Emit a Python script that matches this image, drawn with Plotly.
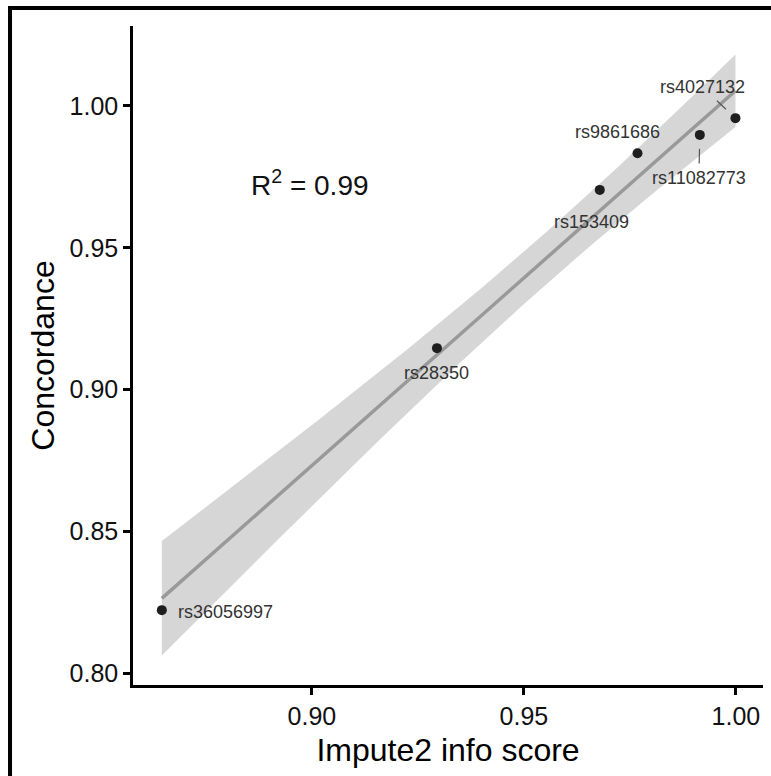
import numpy as np
import plotly.graph_objects as go

# SNP imputation quality vs. genotype concordance
snps = ["rs36056997", "rs28350", "rs153409", "rs9861686", "rs11082773", "rs4027132"]
info_score = [0.8646, 0.9295, 0.9679, 0.9768, 0.9915, 0.9999]
concordance = [0.8222, 0.9146, 0.9704, 0.9833, 0.9898, 0.9957]

x_ticks = [0.90, 0.95, 1.00]
y_ticks = [0.80, 0.85, 0.90, 0.95, 1.00]

# label placement: pixel offset of label centre, and leader segment standoff (None = no segment)
label_offsets = {
    "rs36056997": (64, 2, None),
    "rs28350": (0, 25, None),
    "rs153409": (-8, 32, None),
    "rs9861686": (-20, -21, None),
    "rs11082773": (-1, 43, 14),
    "rs4027132": (-33, -31, 13),
}

# linear fit with 95% confidence band
x = np.array(info_score)
y = np.array(concordance)
n = len(x)
slope, intercept = np.polyfit(x, y, 1)
resid = y - (slope * x + intercept)
s = np.sqrt(np.sum(resid ** 2) / (n - 2))
sxx = np.sum((x - x.mean()) ** 2)
r2 = 1 - np.sum(resid ** 2) / np.sum((y - y.mean()) ** 2)
t_crit = 2.776445  # t(0.975, df=4)
xs = np.linspace(x.min(), x.max(), 80)
ys = slope * xs + intercept
half = t_crit * s * np.sqrt(1 / n + (xs - x.mean()) ** 2 / sxx)

fig = go.Figure()
fig.add_trace(go.Scatter(
    x=np.concatenate([xs, xs[::-1]]),
    y=np.concatenate([ys + half, (ys - half)[::-1]]),
    fill="toself", fillcolor="rgba(153,153,153,0.4)",
    line=dict(width=0), mode="lines", hoverinfo="skip", showlegend=False,
))
fig.add_trace(go.Scatter(
    x=xs, y=ys, mode="lines", line=dict(color="#999999", width=3.5),
    hoverinfo="skip", showlegend=False,
))
fig.add_trace(go.Scatter(
    x=info_score, y=concordance, mode="markers",
    marker=dict(color="#1e1e1e", size=10), showlegend=False,
))

label_font = dict(family="Liberation Sans, Arial", size=18, color="#333333")
for name, xv, yv in zip(snps, info_score, concordance):
    dx, dy, seg = label_offsets[name]
    if seg is None:
        fig.add_annotation(
            x=xv, y=yv, text=name, showarrow=False,
            xshift=dx, yshift=-dy, font=label_font,
        )
    else:
        fig.add_annotation(
            x=xv, y=yv, text=name, showarrow=True, ax=dx, ay=dy,
            arrowhead=0, arrowwidth=1.2, arrowcolor="#555555",
            standoff=seg, startstandoff=3, font=label_font,
        )

fig.add_annotation(
    x=0.8995, y=0.973, xref="x", yref="y", showarrow=False,
    text=f"R<sup>2</sup> = {r2:.2f}",
    font=dict(family="Liberation Sans, Arial", size=28, color="#111111"),
)

# outer frame
fig.add_shape(
    type="rect", xref="paper", yref="paper",
    x0=-0.1952, x1=1.05, y0=-0.2, y1=1.0273,
    line=dict(color="black", width=4), fillcolor="rgba(0,0,0,0)",
)

axis_common = dict(
    showline=True, linecolor="black", linewidth=2.5,
    ticks="outside", ticklen=7, tickwidth=2.5, tickcolor="black",
    showgrid=False, zeroline=False,
    tickfont=dict(family="Liberation Sans, Arial", size=25, color="#111111"),
    title_font=dict(family="Liberation Sans, Arial", size=32, color="black"),
)

fig.update_xaxes(
    range=[0.8578, 1.0064], tickvals=x_ticks,
    ticktext=[f"{v:.2f}" for v in x_ticks],
    title_text="Impute2 info score", title_standoff=10,
    **axis_common,
)
fig.update_yaxes(
    range=[0.7958, 1.0282], tickvals=y_ticks,
    ticktext=[f"{v:.2f}" for v in y_ticks],
    title_text="Concordance", title_standoff=6,
    **axis_common,
)

fig.update_layout(
    width=771, height=776,
    margin=dict(l=133, r=8, t=26, b=91),
    plot_bgcolor="white", paper_bgcolor="white",
)

fig.write_html("out.html")
